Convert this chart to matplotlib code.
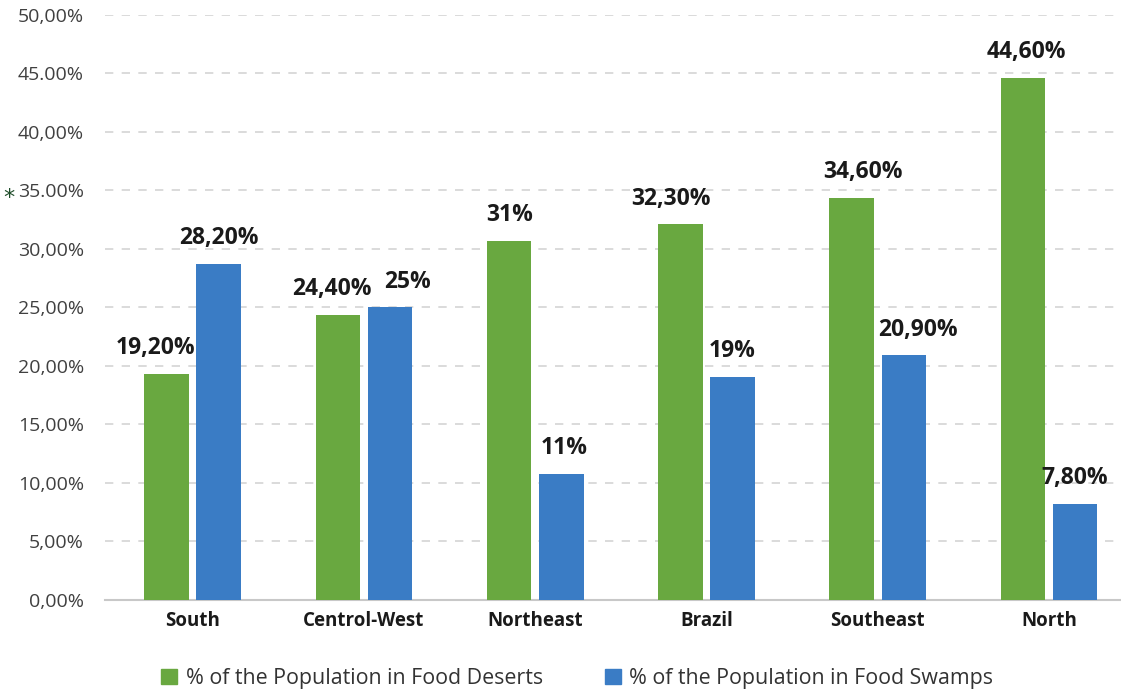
import matplotlib
matplotlib.use("Agg")
from matplotlib import pyplot as plt
from matplotlib.patches import Patch
import numpy as np

regions = ["South", "Centrol-West", "Northeast", "Brazil", "Southeast", "North"]
deserts = [19.3, 24.4, 30.7, 32.1, 34.4, 44.6]
swamps = [28.7, 25.0, 10.8, 19.1, 20.9, 8.2]
desert_labels = ["19,20%", "24,40%", "31%", "32,30%", "34,60%", "44,60%"]
swamp_labels = ["28,20%", "25%", "11%", "19%", "20,90%", "7,80%"]
yticks = [0, 5, 10, 15, 20, 25, 30, 35, 40, 45, 50]
ytick_labels = ["0,00%", "5,00%", "10,00%", "15,00%", "20,00%", "25,00%",
                "30,00%", "35.00%", "40,00%", "45.00%", "50,00%"]

# horizontal nudges of the value labels (pixels), as placed in the original
desert_dx = [-11, -6, 0, -10, 11, 3]
swamp_dx = [0, 18, 3, 0, 14, 0]

green = "#69a840"
blue = "#3a7cc5"

plt.rcParams["font.family"] = ["Open Sans", "DejaVu Sans"]

fig = plt.figure(figsize=(11.21, 6.91), dpi=100)
ax = fig.add_axes([0.094, 0.1317, 0.906, 0.8466])

x = np.arange(len(regions))
w = 0.26
off = 0.152
ax.bar(x - off, deserts, w, color=green, zorder=3)
ax.bar(x + off, swamps, w, color=blue, zorder=3)

for xi, v, t, dx in zip(x, deserts, desert_labels, desert_dx):
    ax.annotate(t, (xi - off, v), xytext=(dx * 0.72, 10), textcoords="offset points",
                ha="center", va="bottom", fontsize=16.5, fontweight="bold", color="#1a1a1a")
for xi, v, t, dx in zip(x, swamps, swamp_labels, swamp_dx):
    ax.annotate(t, (xi + off, v), xytext=(dx * 0.72, 10), textcoords="offset points",
                ha="center", va="bottom", fontsize=16.5, fontweight="bold", color="#1a1a1a")

ax.set_xlim(-0.51, 5.42)
ax.set_ylim(0, 50)
ax.set_yticks(yticks)
ax.set_yticklabels(ytick_labels, fontsize=14, color="#404040")
ax.set_xticks(x)
ax.set_xticklabels(regions, fontsize=13.5, fontweight="bold", color="#1a1a1a")
ax.tick_params(axis="both", length=0)
ax.tick_params(axis="y", pad=15.5)
ax.tick_params(axis="x", pad=8)

ax.grid(axis="y", linestyle=(0, (5, 5)), color="#d4d4d4", linewidth=1.2, zorder=0)
for s in ["top", "right", "left"]:
    ax.spines[s].set_visible(False)
ax.spines["bottom"].set_color("#c8c8c8")
ax.spines["bottom"].set_linewidth(1.5)

handles = [Patch(color=green), Patch(color=blue)]
fig.legend(handles, ["% of the Population in Food Deserts", "% of the Population in Food Swamps"],
           loc="center", bbox_to_anchor=(0.515, 0.018), ncol=2, frameon=False,
           fontsize=15.4, handlelength=0.75, handleheight=0.75, columnspacing=2.9,
           handletextpad=0.4, labelcolor="#333333")

fig.text(0.008, 0.713, "*", fontsize=16, color="#1f4d2a", ha="center", va="center",
         family="DejaVu Sans")

fig.savefig("out.png", dpi=100)
